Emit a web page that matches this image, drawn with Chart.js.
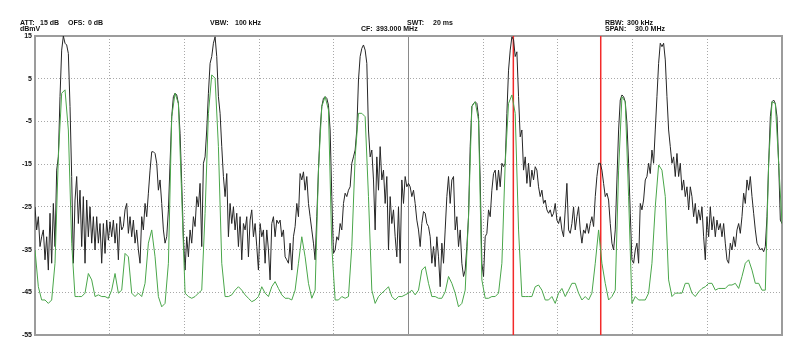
<!DOCTYPE html>
<html><head><meta charset="utf-8">
<script src="https://cdn.jsdelivr.net/npm/chart.js@4/dist/chart.umd.min.js"></script>
<style>
html,body{margin:0;padding:0;background:#fff;}
#wrap{position:relative;width:800px;height:356px;overflow:hidden;background:#fff;}
#wrap canvas{position:absolute;left:0;top:0;}
.t{position:absolute;font:bold 7px "Liberation Sans",Arial,sans-serif;line-height:7px;color:#111;white-space:pre;}
</style></head><body>
<div id="wrap"><canvas id="c" width="800" height="356"></canvas>
<span class="t" style="left:20px;top:19px">ATT:</span>
<span class="t" style="left:40px;top:19px">15 dB</span>
<span class="t" style="left:68px;top:19px">OFS:</span>
<span class="t" style="left:88px;top:19px">0 dB</span>
<span class="t" style="left:210px;top:19px">VBW:</span>
<span class="t" style="left:235px;top:19px">100 kHz</span>
<span class="t" style="left:407px;top:19px">SWT:</span>
<span class="t" style="left:433px;top:19px">20 ms</span>
<span class="t" style="left:605px;top:19px">RBW:</span>
<span class="t" style="left:627px;top:19px">300 kHz</span>
<span class="t" style="left:20px;top:25px">dBmV</span>
<span class="t" style="left:361px;top:25px">CF:</span>
<span class="t" style="left:376px;top:25px">393.000 MHz</span>
<span class="t" style="left:605px;top:25px">SPAN:</span>
<span class="t" style="left:635px;top:25px">30.0 MHz</span>
</div>
<script>
// Sweep settings (MHz) and axis ticks
const START_MHZ = 378;
const STOP_MHZ = 408;
const CF_MHZ = 393;
const xGridMHz = [378,381,384,387,390,393,396,399,402,405,408];
const yTicksDbmv = [15,5,-5,-15,-25,-35,-45,-55];
const markerMHz = [397.21, 400.72];

// Trace 1 (black, max hold) - dBmV, evenly spaced across the span
const blackTrace = [
-25.0,-30.4,-27.3,-34.3,-32.0,-30.4,-37.4,-32.0,-39.8,-26.5,-38.2,-24.2,-34.3,-16.4,-13.3,0.8,11.7,15.0,13.3,12.9,10.9,-1.5,-17.9,-38.2,-23.4,-17.9,-28.9,-21.1,-34.3,-22.6,-38.2,-23.4,-32.0,-25.0,-33.5,-27.3,-35.1,-27.3,-33.5,-28.9,-38.2,-28.9,-35.9,-28.1,-32.8,-28.5,-32.0,-28.1,-33.5,-28.9,-37.4,-27.3,-30.4,-29.6,
-25.7,-24.2,-31.2,-27.3,-32.0,-28.1,-33.5,-30.4,-35.1,-38.2,-27.3,-30.4,-24.2,-27.3,-21.8,-16.4,-12.1,-12.1,-12.5,-14.8,-21.1,-18.7,-24.2,-30.4,-33.5,-32.0,-25.7,-14.8,-3.9,0.8,1.6,1.2,-0.8,-7.8,-19.5,-32.0,-39.8,-32.0,-36.7,-30.4,-33.5,-27.3,-29.6,-22.6,-25.0,-19.5,-34.3,-14.8,-13.3,-7.0,1.6,8.6,10.2,13.3,14.8,10.2,0.8,
-3.1,-10.9,-17.9,-22.6,-17.2,-32.0,-24.2,-28.9,-25.0,-30.4,-26.5,-34.3,-27.3,-37.4,-28.9,-30.4,-27.3,-36.7,-28.1,-25.7,-32.0,-28.9,-34.3,-39.8,-28.9,-32.0,-30.4,-38.2,-30.4,-35.1,-42.1,-28.9,-27.3,-32.0,-28.1,-28.9,-28.1,-32.0,-30.4,-36.7,-37.4,-38.2,-33.5,-39.8,-32.0,-29.6,-24.2,-27.3,-17.2,-18.7,-16.8,-21.1,-17.9,-24.2,-27.3,-30.4,-33.5,
-37.4,-27.3,-16.4,-7.0,-1.5,0.4,0.8,0.4,-1.2,-7.0,-22.6,-35.9,-35.1,-32.0,-32.8,-28.9,-30.4,-24.2,-21.8,-22.6,-21.1,-20.3,-14.8,-13.3,-11.7,-7.0,4.7,10.2,12.1,12.9,11.7,8.6,-7.0,-13.3,-11.7,-18.7,-30.4,-13.3,-21.1,-10.9,-18.7,-16.4,-24.2,-17.9,-35.1,-22.6,-28.9,-25.7,-32.0,-36.7,-25.0,-38.2,-18.7,-24.2,-17.9,-20.3,-19.5,
-20.3,-22.6,-21.1,-24.2,-28.1,-30.4,-34.3,-28.9,-26.1,-26.5,-28.9,-29.6,-32.0,-38.2,-34.3,-39.0,-32.0,-36.7,-43.7,-33.5,-38.2,-30.4,-22.6,-17.9,-24.2,-18.7,-17.9,-30.4,-27.3,-34.3,-30.4,-38.2,-41.3,-39.8,-34.3,-27.3,-10.9,-1.5,-0.8,-0.4,-0.8,-3.9,-18.7,-38.2,-41.3,-32.0,-31.2,-25.7,-27.3,-21.1,-17.2,-16.4,-21.1,-16.4,-20.3,-14.8,-15.6,
-14.8,-3.1,7.0,11.7,14.8,14.1,10.2,11.3,0.8,-8.6,-7.0,-16.4,-13.3,-19.5,-14.8,-20.3,-16.4,-18.7,-15.6,-16.4,-20.3,-22.6,-21.1,-24.2,-23.4,-25.7,-26.5,-25.7,-27.3,-26.5,-24.2,-28.1,-28.9,-27.3,-30.4,-32.0,-25.7,-19.5,-30.4,-31.2,-28.9,-25.0,-30.4,-27.3,-25.0,-30.4,-33.5,-30.4,-31.2,-28.9,-31.2,-28.9,-27.3,-29.6,-22.6,-17.9,-14.8,
-14.8,-16.4,-19.5,-22.6,-21.8,-23.4,-28.9,-33.5,-35.1,-30.4,-18.7,-7.0,0.0,1.2,0.8,-0.4,-5.4,-14.8,-26.5,-37.4,-38.2,-35.1,-33.5,-38.2,-24.2,-25.7,-23.4,-18.7,-17.9,-14.8,-17.2,-11.7,-14.8,-7.0,0.8,8.6,13.3,12.5,13.3,9.4,0.8,-7.0,-10.9,-14.8,-13.3,-17.9,-12.5,-17.9,-14.8,-21.1,-18.7,-22.6,-20.3,-25.7,
-20.3,-22.6,-27.3,-24.2,-28.9,-25.7,-28.1,-25.0,-32.0,-37.4,-27.3,-32.0,-25.0,-30.4,-27.3,-32.0,-28.1,-30.4,-28.9,-32.0,-28.9,-33.5,-37.4,-38.2,-33.5,-35.1,-32.0,-34.3,-30.4,-28.9,-31.2,-27.3,-21.8,-24.2,-18.7,-21.1,-17.9,-22.6,-26.5,-30.4,-33.5,-34.3,-35.1,-34.7,-35.5,-34.3,-27.3,-14.8,-3.9,-0.4,0.0,-0.8,-3.9,-14.8,-28.1,-28.9
];

// Trace 2 (green, average) - dBmV, evenly spaced across the span
const greenTrace = [
-35.1,-43.7,-46.8,-46.8,-47.6,-46.8,-38.2,-13.3,1.6,2.4,-7.0,-33.5,-46.0,-46.0,-46.0,-45.2,-40.6,-42.1,-46.0,-45.6,-46.0,-46.0,-46.4,-44.5,-40.6,-45.2,-44.5,
-35.9,-36.7,-45.2,-46.0,-45.2,-46.0,-42.9,-33.5,-30.4,-36.7,-46.0,-48.4,-47.6,-38.2,-3.9,1.6,-0.8,-22.6,-45.2,-46.0,-46.4,-46.0,-45.2,-44.5,-26.5,-3.1,5.9,5.1,-10.9,
-38.2,-46.0,-46.0,-45.6,-44.5,-43.7,-44.5,-45.6,-46.4,-47.2,-46.8,-46.0,-43.7,-45.2,-46.0,-43.7,-42.5,-44.1,-45.6,-46.4,-46.4,-46.8,-44.5,-38.2,-32.0,-36.7,-42.9,-46.4,
-44.5,-16.4,-1.5,0.8,-2.3,-34.3,-46.8,-46.8,-46.0,-46.4,-46.0,-34.3,-13.3,-3.1,-3.1,-3.9,-22.6,-44.5,-47.6,-46.0,-45.2,-44.5,-43.7,-46.0,-46.8,-46.0,-46.0,-45.6,-45.2,
-44.5,-45.6,-44.5,-39.8,-39.0,-42.9,-46.0,-46.0,-46.4,-46.4,-44.9,-41.3,-42.9,-45.2,-48.4,-47.6,-44.5,-27.3,-1.5,-0.4,-4.7,-42.1,-46.4,-46.4,-46.0,-46.0,-45.2,-38.2,
-14.8,-0.8,1.2,-3.1,-30.4,-46.0,-46.0,-46.0,-46.0,-43.7,-43.3,-44.5,-46.8,-46.8,-46.0,-47.6,-45.2,-44.1,-46.0,-44.5,-42.9,-42.9,-45.2,-46.8,-46.0,-46.8,-45.2,-38.2,-30.4,
-38.2,-42.9,-46.8,-46.0,-44.5,-16.4,0.8,-0.4,-22.6,-47.6,-46.0,-46.8,-46.8,-46.8,-45.2,-38.2,-25.0,-15.2,-16.4,-22.6,-42.1,-46.0,-45.2,-45.2,-45.2,-42.9,-42.9,
-45.2,-46.0,-44.9,-44.1,-43.7,-42.9,-42.9,-44.5,-44.1,-44.1,-44.1,-43.3,-43.3,-42.9,-44.1,-41.3,-38.2,-37.4,-39.8,-42.9,-42.9,-44.5,-44.5,-14.8,-0.4,-0.8,-14.8,-28.9
];

function sweep(levels){
  const step = (STOP_MHZ - START_MHZ) / (levels.length - 1);
  return levels.map((v, i) => ({x: START_MHZ + i * step, y: v}));
}
const yMin = yTicksDbmv[yTicksDbmv.length - 1], yMax = yTicksDbmv[0];
const markerSets = markerMHz.map(m => ({
  data: [{x: m, y: yMin}, {x: m, y: yMax}],
  borderColor: '#f22a2a', borderWidth: 1.5, pointRadius: 0, order: 3
}));

const framePlugin = {
  id: 'frame',
  beforeDatasetsDraw(chart){
    const a = chart.chartArea, ctx = chart.ctx;
    ctx.save();
    ctx.strokeStyle = '#9c9c9c';
    ctx.lineWidth = 2;
    ctx.strokeRect(a.left, a.top, a.right - a.left, a.bottom - a.top);
    ctx.restore();
  }
};

const tickFont = {family: '"Liberation Sans", Arial, sans-serif', size: 7, weight: 'bold'};

new Chart(document.getElementById('c'), {
  type: 'line',
  data: {
    datasets: [
      {data: sweep(blackTrace), borderColor: '#262626', borderWidth: 1, pointRadius: 0, order: 2},
      {data: sweep(greenTrace), borderColor: '#4aa64a', borderWidth: 1, pointRadius: 0, order: 1},
      ...markerSets
    ]
  },
  options: {
    responsive: false,
    animation: false,
    events: [],
    layout: {padding: {top: 36, right: 18, bottom: 21, left: 0}},
    plugins: {legend: {display: false}, tooltip: {enabled: false}},
    elements: {line: {tension: 0}},
    scales: {
      x: {
        type: 'linear', min: START_MHZ, max: STOP_MHZ,
        afterBuildTicks: s => { s.ticks = xGridMHz.map(v => ({value: v})); },
        afterFit: s => { s.height = 0; },
        ticks: {display: false},
        grid: {
          drawTicks: false,
          color: c => (c.tick && (c.tick.value === START_MHZ || c.tick.value === STOP_MHZ)) ? 'rgba(0,0,0,0)' :
                       (c.tick && c.tick.value === CF_MHZ ? '#8a8a8a' : '#a8a8a8'),
          lineWidth: 1
        },
        border: {display: false, dash: c => (c.tick && c.tick.value === CF_MHZ) ? [] : [1, 2]}
      },
      y: {
        type: 'linear', min: yMin, max: yMax,
        afterBuildTicks: s => { s.ticks = yTicksDbmv.map(v => ({value: v})); },
        afterFit: s => { s.width = 35; },
        ticks: {font: tickFont, color: '#111', padding: 3},
        grid: {
          drawTicks: false,
          color: c => (c.tick && (c.tick.value === yMin || c.tick.value === yMax)) ? 'rgba(0,0,0,0)' : '#a8a8a8',
          lineWidth: 1
        },
        border: {display: false, dash: [1, 2]}
      }
    }
  },
  plugins: [framePlugin]
});
</script>
</body></html>
